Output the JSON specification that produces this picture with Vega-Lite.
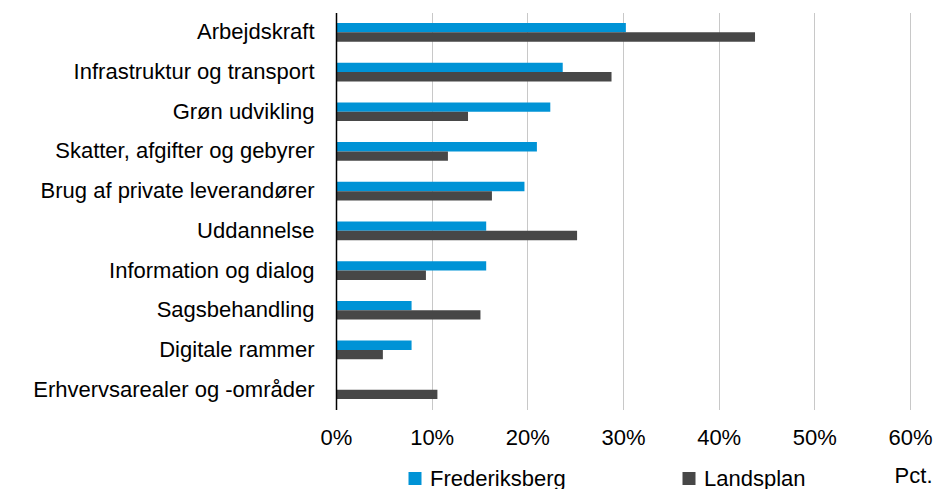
{
  "$schema": "https://vega.github.io/schema/vega-lite/v6.json",
  "width": 574,
  "height": 397,
  "autosize": {"type": "none"},
  "padding": {"left": 336, "top": 12.5, "right": 28, "bottom": 79.5},
  "background": "white",
  "config": {"font": "Liberation Sans", "view": {"stroke": null}},
  "data": {
    "values": [
      {"kategori": "Arbejdskraft", "serie": "Frederiksberg", "andel": 0.303},
      {"kategori": "Arbejdskraft", "serie": "Landsplan", "andel": 0.438},
      {"kategori": "Infrastruktur og transport", "serie": "Frederiksberg", "andel": 0.237},
      {"kategori": "Infrastruktur og transport", "serie": "Landsplan", "andel": 0.288},
      {"kategori": "Grøn udvikling", "serie": "Frederiksberg", "andel": 0.224},
      {"kategori": "Grøn udvikling", "serie": "Landsplan", "andel": 0.138},
      {"kategori": "Skatter, afgifter og gebyrer", "serie": "Frederiksberg", "andel": 0.210},
      {"kategori": "Skatter, afgifter og gebyrer", "serie": "Landsplan", "andel": 0.117},
      {"kategori": "Brug af private leverandører", "serie": "Frederiksberg", "andel": 0.197},
      {"kategori": "Brug af private leverandører", "serie": "Landsplan", "andel": 0.163},
      {"kategori": "Uddannelse", "serie": "Frederiksberg", "andel": 0.157},
      {"kategori": "Uddannelse", "serie": "Landsplan", "andel": 0.252},
      {"kategori": "Information og dialog", "serie": "Frederiksberg", "andel": 0.157},
      {"kategori": "Information og dialog", "serie": "Landsplan", "andel": 0.094},
      {"kategori": "Sagsbehandling", "serie": "Frederiksberg", "andel": 0.079},
      {"kategori": "Sagsbehandling", "serie": "Landsplan", "andel": 0.151},
      {"kategori": "Digitale rammer", "serie": "Frederiksberg", "andel": 0.079},
      {"kategori": "Digitale rammer", "serie": "Landsplan", "andel": 0.049},
      {"kategori": "Erhvervsarealer og -områder", "serie": "Frederiksberg", "andel": 0},
      {"kategori": "Erhvervsarealer og -områder", "serie": "Landsplan", "andel": 0.106}
    ]
  },
  "mark": {"type": "bar"},
  "encoding": {
    "y": {
      "field": "kategori",
      "type": "nominal",
      "sort": ["Arbejdskraft", "Infrastruktur og transport", "Grøn udvikling", "Skatter, afgifter og gebyrer", "Brug af private leverandører", "Uddannelse", "Information og dialog", "Sagsbehandling", "Digitale rammer", "Erhvervsarealer og -områder"],
      "scale": {"paddingInner": 0.53, "paddingOuter": 0.265},
      "axis": {
        "title": null,
        "zindex": 1,
        "domainColor": "#000000",
        "domainWidth": 1.5,
        "ticks": false,
        "tickSize": 0,
        "labelPadding": 22,
        "labelFontSize": 22,
        "labelColor": "#000000",
        "labelLimit": 400,
        "grid": false
      }
    },
    "yOffset": {"field": "serie", "type": "nominal", "sort": ["Frederiksberg", "Landsplan"], "scale": {"padding": 0}},
    "x": {
      "field": "andel",
      "type": "quantitative",
      "scale": {"domain": [0, 0.6], "nice": false},
      "axis": {
        "values": [0, 0.1, 0.2, 0.3, 0.4, 0.5, 0.6],
        "format": ".0%",
        "domain": false,
        "ticks": false,
        "tickSize": 0,
        "grid": true,
        "gridColor": "#c8c8c8",
        "gridWidth": 1,
        "labelPadding": 18,
        "labelFontSize": 22,
        "labelColor": "#000000",
        "labelFlush": false,
        "labelOverlap": false,
        "title": "Pct.",
        "titleX": 596,
        "titleY": 73,
        "titleAlign": "right",
        "titleAnchor": null,
        "titleBaseline": "alphabetic",
        "titleFontSize": 22,
        "titleFontWeight": "normal",
        "titleColor": "#000000"
      }
    },
    "color": {
      "field": "serie",
      "type": "nominal",
      "scale": {"domain": ["Frederiksberg", "Landsplan"], "range": ["#0093d6", "#474747"]},
      "legend": {
        "title": null,
        "orient": "none",
        "direction": "horizontal",
        "legendX": 68,
        "legendY": 455,
        "padding": 0,
        "symbolType": "square",
        "symbolSize": 169,
        "symbolStrokeWidth": 0,
        "labelFontSize": 22,
        "labelColor": "#000000",
        "labelOffset": 4,
        "labelLimit": 400,
        "columnPadding": 112
      }
    }
  }
}
